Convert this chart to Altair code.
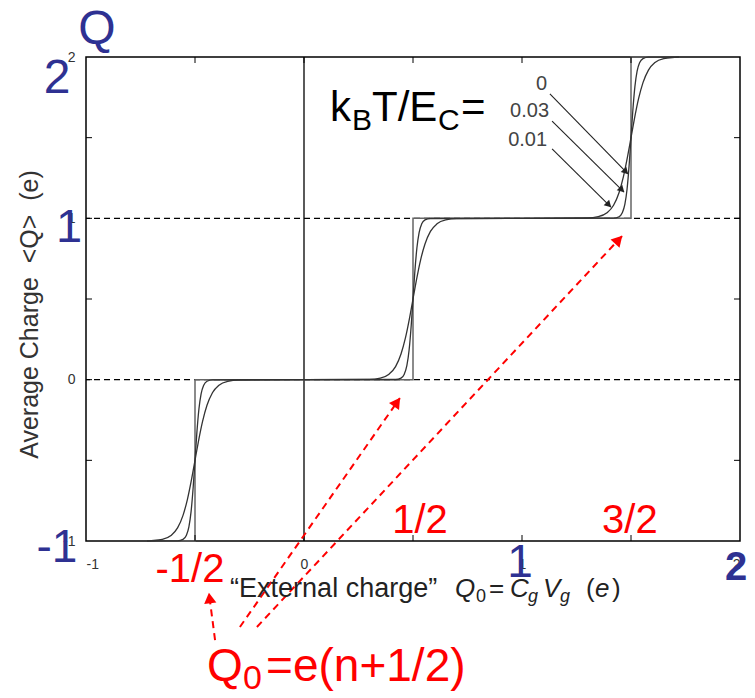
import math
import altair as alt
import pandas as pd

FONT = "Liberation Sans"
BLUE = "#2e3192"
RED = "#ff0000"
W, H = 654, 484
X_DOMAIN = [-1, 2]
Y_DOMAIN = [-1, 2]

# ---------------- data ----------------
step_pos = [-0.5, 0.5, 1.5]
step_level = [-1, 0, 1]
curve_start = -0.72
curve_end = 1.72

t0_x = [-0.72, -0.5, -0.5, 0.5, 0.5, 1.5, 1.5, 1.72]
t0_y = [-1, -1, 0, 0, 1, 1, 2, 2]

wide_dx = [-0.20, -0.15, -0.11, -0.08, -0.055, -0.035, -0.015, 0.0,
           0.015, 0.035, 0.055, 0.08, 0.11, 0.15, 0.20]
wide_frac = [0.002, 0.010, 0.034, 0.081, 0.159, 0.257, 0.388, 0.5,
             0.612, 0.743, 0.841, 0.919, 0.966, 0.990, 0.998]
narrow_dx = [-0.08, -0.055, -0.04, -0.028, -0.018, -0.008, 0.0,
             0.008, 0.018, 0.028, 0.04, 0.055, 0.08]
narrow_frac = [0.001, 0.010, 0.034, 0.088, 0.182, 0.339, 0.5,
               0.661, 0.818, 0.912, 0.966, 0.990, 0.999]

dashed_levels = [0, 1]
vline_x = [0]
tick_vals = [-0.5, 0, 0.5, 1, 1.5]
axis_labels = [-1, 0, 1, 2]
y_title = "Average Charge\u00a0 <Q>\u00a0 (e)"

# blue big labels
blue_text = ["Q", "2", "1", "-1", "1"]
blue_x = [-0.950, -1.133, -1.078, -1.133, 0.991]
blue_y = [2.081, 1.777, 0.853, -1.130, -1.223]
blue_size = [48, 48, 47, 46, 46]
blue_bold_text = ["2"]
blue_bold_x = [1.982]
blue_bold_y = [-1.242]

# red labels
red_text = ["-1/2", "1/2", "3/2"]
red_x = [-0.523, 0.532, 1.495]
red_y = [-1.254, -0.950, -0.950]

# Q0=e(n+1/2)
formula_text = ["Q", "0", "=e(n+1/2)"]
formula_x = [-0.445, -0.280, -0.174]
formula_y = [-1.868, -1.917, -1.868]
formula_size = [46, 34, 46]

# kBT/EC=
kt_text = ["k", "B", "T/E", "C", "="]
kt_x = [0.119, 0.220, 0.312, 0.615, 0.720]
kt_y = [1.603, 1.548, 1.603, 1.548, 1.603]
kt_size = [42, 30, 42, 30, 42]

# temperature labels
temp_text = ["0", "0.03", "0.01"]
temp_x = [1.115, 1.124, 1.115]
temp_y = [1.795, 1.628, 1.448]

# black arrows
barrow_x1 = [1.128, 1.138, 1.138]
barrow_y1 = [1.771, 1.603, 1.430]
barrow_x2 = [1.486, 1.468, 1.408]
barrow_y2 = [1.275, 1.163, 1.070]

# red dashed arrows
rarrow_x1 = [-0.408, -0.294, -0.216]
rarrow_y1 = [-1.614, -1.533, -1.533]
rarrow_x2 = [-0.436, 0.440, 1.459]
rarrow_y2 = [-1.322, -0.114, 0.890]

# x-axis caption pieces
cap_text = ["\u201cExternal charge\u201d", "Q", "0", "=", "C", "g", "V", "g", "(", "e", ")"]
cap_x = [-0.339, 0.693, 0.789, 0.849, 0.945, 1.028, 1.096, 1.174, 1.294, 1.335, 1.413]
cap_y = [-1.347, -1.347, -1.378, -1.347, -1.347, -1.378, -1.347, -1.378, -1.347, -1.347, -1.347]
cap_size = [27, 26, 18, 26, 26, 18, 26, 18, 26, 26, 26]
cap_italic = [False, True, False, False, True, True, True, True, False, True, False]

# ---------------- helpers ----------------
xsc = alt.Scale(domain=X_DOMAIN, nice=False, zero=False)
ysc = alt.Scale(domain=Y_DOMAIN, nice=False, zero=False)
PX_X = W / (X_DOMAIN[1] - X_DOMAIN[0])
PX_Y = H / (Y_DOMAIN[1] - Y_DOMAIN[0])

axis_common = dict(ticks=False, domain=False, grid=False, labelFont=FONT, labelFontSize=14,
                   labelColor="#333", labelExpr="'' + datum.value", values=axis_labels)
AX = alt.Axis(labelPadding=16, title=None, **axis_common)
AY = alt.Axis(labelPadding=11, title=y_title,
              titleFont=FONT, titleFontSize=25, titleFontWeight="normal", titleColor="#333",
              titleX=-49, titleY=H / 2 + 15, titleAngle=270, titleAlign="center",
              titleBaseline="alphabetic", **axis_common)


def build_curve(dxs, fracs):
    xs = [curve_start]
    ys = [step_level[0]]
    for s, lv in zip(step_pos, step_level):
        for dx, f in zip(dxs, fracs):
            xs.append(s + dx)
            ys.append(lv + f)
    xs.append(curve_end)
    ys.append(step_level[-1] + 1)
    return pd.DataFrame({"x": xs, "y": ys, "i": list(range(len(xs)))})


def XE(field="x"):
    return alt.X(f"{field}:Q", scale=xsc, axis=AX)


def YE(field="y"):
    return alt.Y(f"{field}:Q", scale=ysc, axis=AY)


def text_layer(texts, xs, ys, sizes, color, align="left", weight="normal", style="normal"):
    df = pd.DataFrame({"t": texts, "x": xs, "y": ys, "s": sizes})
    return alt.Chart(df).mark_text(
        font=FONT, color=color, align=align, baseline="alphabetic",
        fontWeight=weight, fontStyle=style
    ).encode(x=XE(), y=YE(), text="t:N", size=alt.Size("s:Q", scale=None, legend=None))


def arrows(x1, y1, x2, y2, color, width, dash, head_size, back):
    df = pd.DataFrame({"x": x1, "y": y1, "x2": x2, "y2": y2})
    line_mark = alt.Chart(df).mark_rule(color=color, strokeWidth=width, **({"strokeDash": dash} if dash else {}))
    lines = line_mark.encode(x=XE(), y=YE(), x2="x2:Q", y2="y2:Q")
    hx, hy, ang = [], [], []
    for a, b, c, d in zip(x1, y1, x2, y2):
        dxp = (c - a) * PX_X
        dyp = -(d - b) * PX_Y
        L = math.hypot(dxp, dyp)
        ux, uy = dxp / L, dyp / L
        hx.append(c - ux * back / PX_X)
        hy.append(d + uy * back / PX_Y)
        ang.append(math.degrees(math.atan2(dxp, -dyp)) % 360)
    hdf = pd.DataFrame({"x": hx, "y": hy, "a": ang})
    heads = alt.Chart(hdf).mark_point(shape="triangle-up", filled=True, color=color,
                                       size=head_size, opacity=1).encode(
        x=XE(), y=YE(), angle=alt.Angle("a:Q", scale=None))
    return lines + heads


# ---------------- layers ----------------
dashed = alt.Chart(pd.DataFrame({"y": dashed_levels})).mark_rule(
    color="black", strokeWidth=1.2, strokeDash=[6, 4]
).encode(y=YE())

vline = alt.Chart(pd.DataFrame({"x": vline_x})).mark_rule(color="black", strokeWidth=1.3).encode(x=XE())

t0_df = pd.DataFrame({"x": t0_x, "y": t0_y, "i": list(range(len(t0_x)))})
t0_line = alt.Chart(t0_df).mark_line(color="#666", strokeWidth=1.5).encode(x=XE(), y=YE(), order="i:Q")
wide_line = alt.Chart(build_curve(wide_dx, wide_frac)).mark_line(
    color="#333", strokeWidth=1.3, interpolate="monotone").encode(x=XE(), y=YE(), order="i:Q")
narrow_line = alt.Chart(build_curve(narrow_dx, narrow_frac)).mark_line(
    color="#333", strokeWidth=1.3, interpolate="monotone").encode(x=XE(), y=YE(), order="i:Q")

tdf = pd.DataFrame({"v": tick_vals})
tick_bottom = alt.Chart(tdf).mark_rule(color="black", strokeWidth=1).encode(
    x=XE("v"), y=alt.value(H), y2=alt.value(H - 6))
tick_top = alt.Chart(tdf).mark_rule(color="black", strokeWidth=1).encode(
    x=XE("v"), y=alt.value(0), y2=alt.value(6))
tick_left = alt.Chart(tdf).mark_rule(color="black", strokeWidth=1).encode(
    y=YE("v"), x=alt.value(0), x2=alt.value(6))
tick_right = alt.Chart(tdf).mark_rule(color="black", strokeWidth=1).encode(
    y=YE("v"), x=alt.value(W), x2=alt.value(W - 6))

blue_layer = text_layer(blue_text, blue_x, blue_y, blue_size, BLUE, align="center")
blue_bold = text_layer(blue_bold_text, blue_bold_x, blue_bold_y, [40], BLUE, align="center", weight="bold")
red_layer = text_layer(red_text, red_x, red_y, [40] * len(red_text), RED, align="center")
formula_layer = text_layer(formula_text, formula_x, formula_y, formula_size, RED)
kt_layer = text_layer(kt_text, kt_x, kt_y, kt_size, "black")
temp_layer = text_layer(temp_text, temp_x, temp_y, [20] * 3, "#444", align="right")

cap_layers = []
for italic in (False, True):
    idx = [k for k, it in enumerate(cap_italic) if it == italic]
    cap_layers.append(text_layer([cap_text[k] for k in idx], [cap_x[k] for k in idx],
                                 [cap_y[k] for k in idx], [cap_size[k] for k in idx], "#222",
                                 style="italic" if italic else "normal"))

black_arrows = arrows(barrow_x1, barrow_y1, barrow_x2, barrow_y2, "#222", 1.1, None, 60, 3)
red_arrows = arrows(rarrow_x1, rarrow_y1, rarrow_x2, rarrow_y2, RED, 2, [7, 5], 150, 5)

chart = alt.layer(
    dashed, vline, t0_line, wide_line, narrow_line,
    tick_bottom, tick_top, tick_left, tick_right,
    black_arrows, red_arrows,
    blue_layer, blue_bold, red_layer, formula_layer, kt_layer, temp_layer, *cap_layers,
).properties(
    width=W, height=H,
    autosize=alt.AutoSizeParams(type="none"),
    padding={"left": 86, "top": 57, "right": 15, "bottom": 157},
    background="white",
).configure_view(stroke="black", strokeWidth=1.5)

chart.save("out.html", embed_options={"renderer": "svg", "actions": False})
